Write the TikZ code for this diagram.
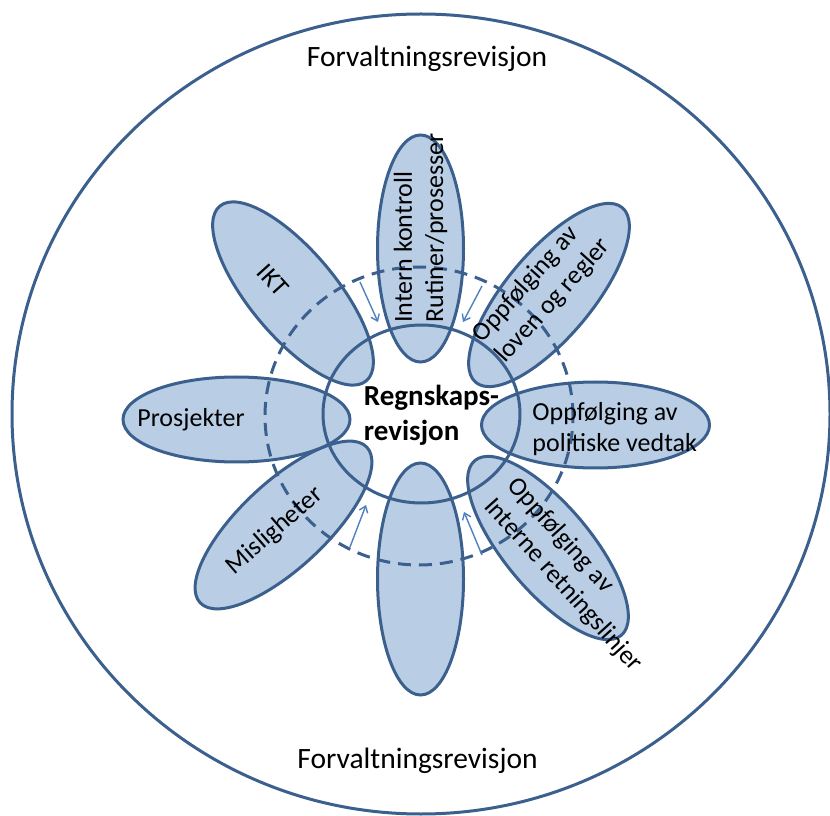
\documentclass[tikz,border=0pt]{standalone}
\usepackage{fontspec}
\setmainfont{Carlito}
\usetikzlibrary{shapes.geometric,arrows.meta}
\definecolor{edgeblue}{RGB}{60,96,142}
\definecolor{petalfill}{RGB}{185,205,229}
\definecolor{arrowblue}{RGB}{79,129,189}
\tikzset{
  petal/.style={ellipse, draw=edgeblue, fill=petalfill, line width=3pt, inner sep=0pt,
    minimum width=228pt, minimum height=86pt},
  ring/.style={ellipse, draw=edgeblue, line width=3pt, inner sep=0pt},
  dashring/.style={ring, dash pattern=on 13pt off 8pt},
  ptext/.style={inner sep=0pt, align=left, font=\fontsize{26}{31.2}\selectfont},
  ctext/.style={inner sep=0pt, align=left, font=\fontsize{29}{34.8}\selectfont\bfseries},
  ftext/.style={inner sep=0pt, anchor=base, font=\fontsize{29.5}{35}\selectfont},
  feed/.style={draw=arrowblue, line width=1.4pt, -{Straight Barb[length=6pt,width=9pt]}}
}
\begin{document}
\begin{tikzpicture}[x=1pt,y=1pt]
\useasboundingbox (0,0) rectangle (830,815);
\clip (0,0) rectangle (830,815);
% outer circle
\node[ring, minimum width=818pt, minimum height=800pt] (outer) at (421,401) {};
% petals
\node[petal, rotate=90, minimum width=227pt] (p1) at (420.5,566.5) {};
\node[petal, rotate=50] (p2) at (549,520) {};
\node[petal] (p3) at (595.5,390) {};
\node[petal, rotate=-50] (p4) at (548,267) {};
\node[petal, rotate=90, minimum width=232pt] (p5) at (420.5,236) {};
\node[petal, rotate=43] (p6) at (283.5,290) {};
\node[petal, minimum width=227pt, minimum height=85pt] (p7) at (236.5,395.5) {};
\node[petal, rotate=-50] (p8) at (293,521.5) {};
% rings
\node[ring, minimum width=197pt, minimum height=178pt] (inner) at (421.5,401) {};
\node[dashring, minimum width=308pt, minimum height=298pt] (dash) at (419,399) {};
% arrows
\coordinate (a1s) at (360,533); \coordinate (a1e) at (378,493);
\coordinate (a2s) at (482,529); \coordinate (a2e) at (463,493);
\coordinate (a3s) at (350,268); \coordinate (a3e) at (366,310);
\coordinate (a4s) at (482,260); \coordinate (a4e) at (464,303);
\draw[feed] (a1s) -- (a1e);
\draw[feed] (a2s) -- (a2e);
\draw[feed] (a3s) -- (a3e);
\draw[feed] (a4s) -- (a4e);
% texts
\node[ptext, rotate=90] (t1) at (420.5,587) {Intern kontroll\\Rutiner/prosesser};
\node[ptext, rotate=48] (t2) at (541.8,524.5) {Oppfølging av\\loven og regler};
\node[ptext] (t3) at (614.7,386) {Oppfølging av\\politiske vedtak};
\node[ptext, rotate=-48] (t4) at (574.7,240.2) {Oppfølging av\\Interne retningslinjer};
\node[ptext, rotate=41] (t6) at (275,284.3) {Misligheter};
\node[ptext] (t7) at (191,395) {Prosjekter};
\node[ptext, rotate=-48] (t8) at (273,535) {IKT};
\node[ctext] (center) at (431.5,400) {Regnskaps-\\revisjon};
\node[ftext] (ftop) at (427,748) {Forvaltningsrevisjon};
\node[ftext] (fbot) at (417.5,47) {Forvaltningsrevisjon};
\end{tikzpicture}
\end{document}
